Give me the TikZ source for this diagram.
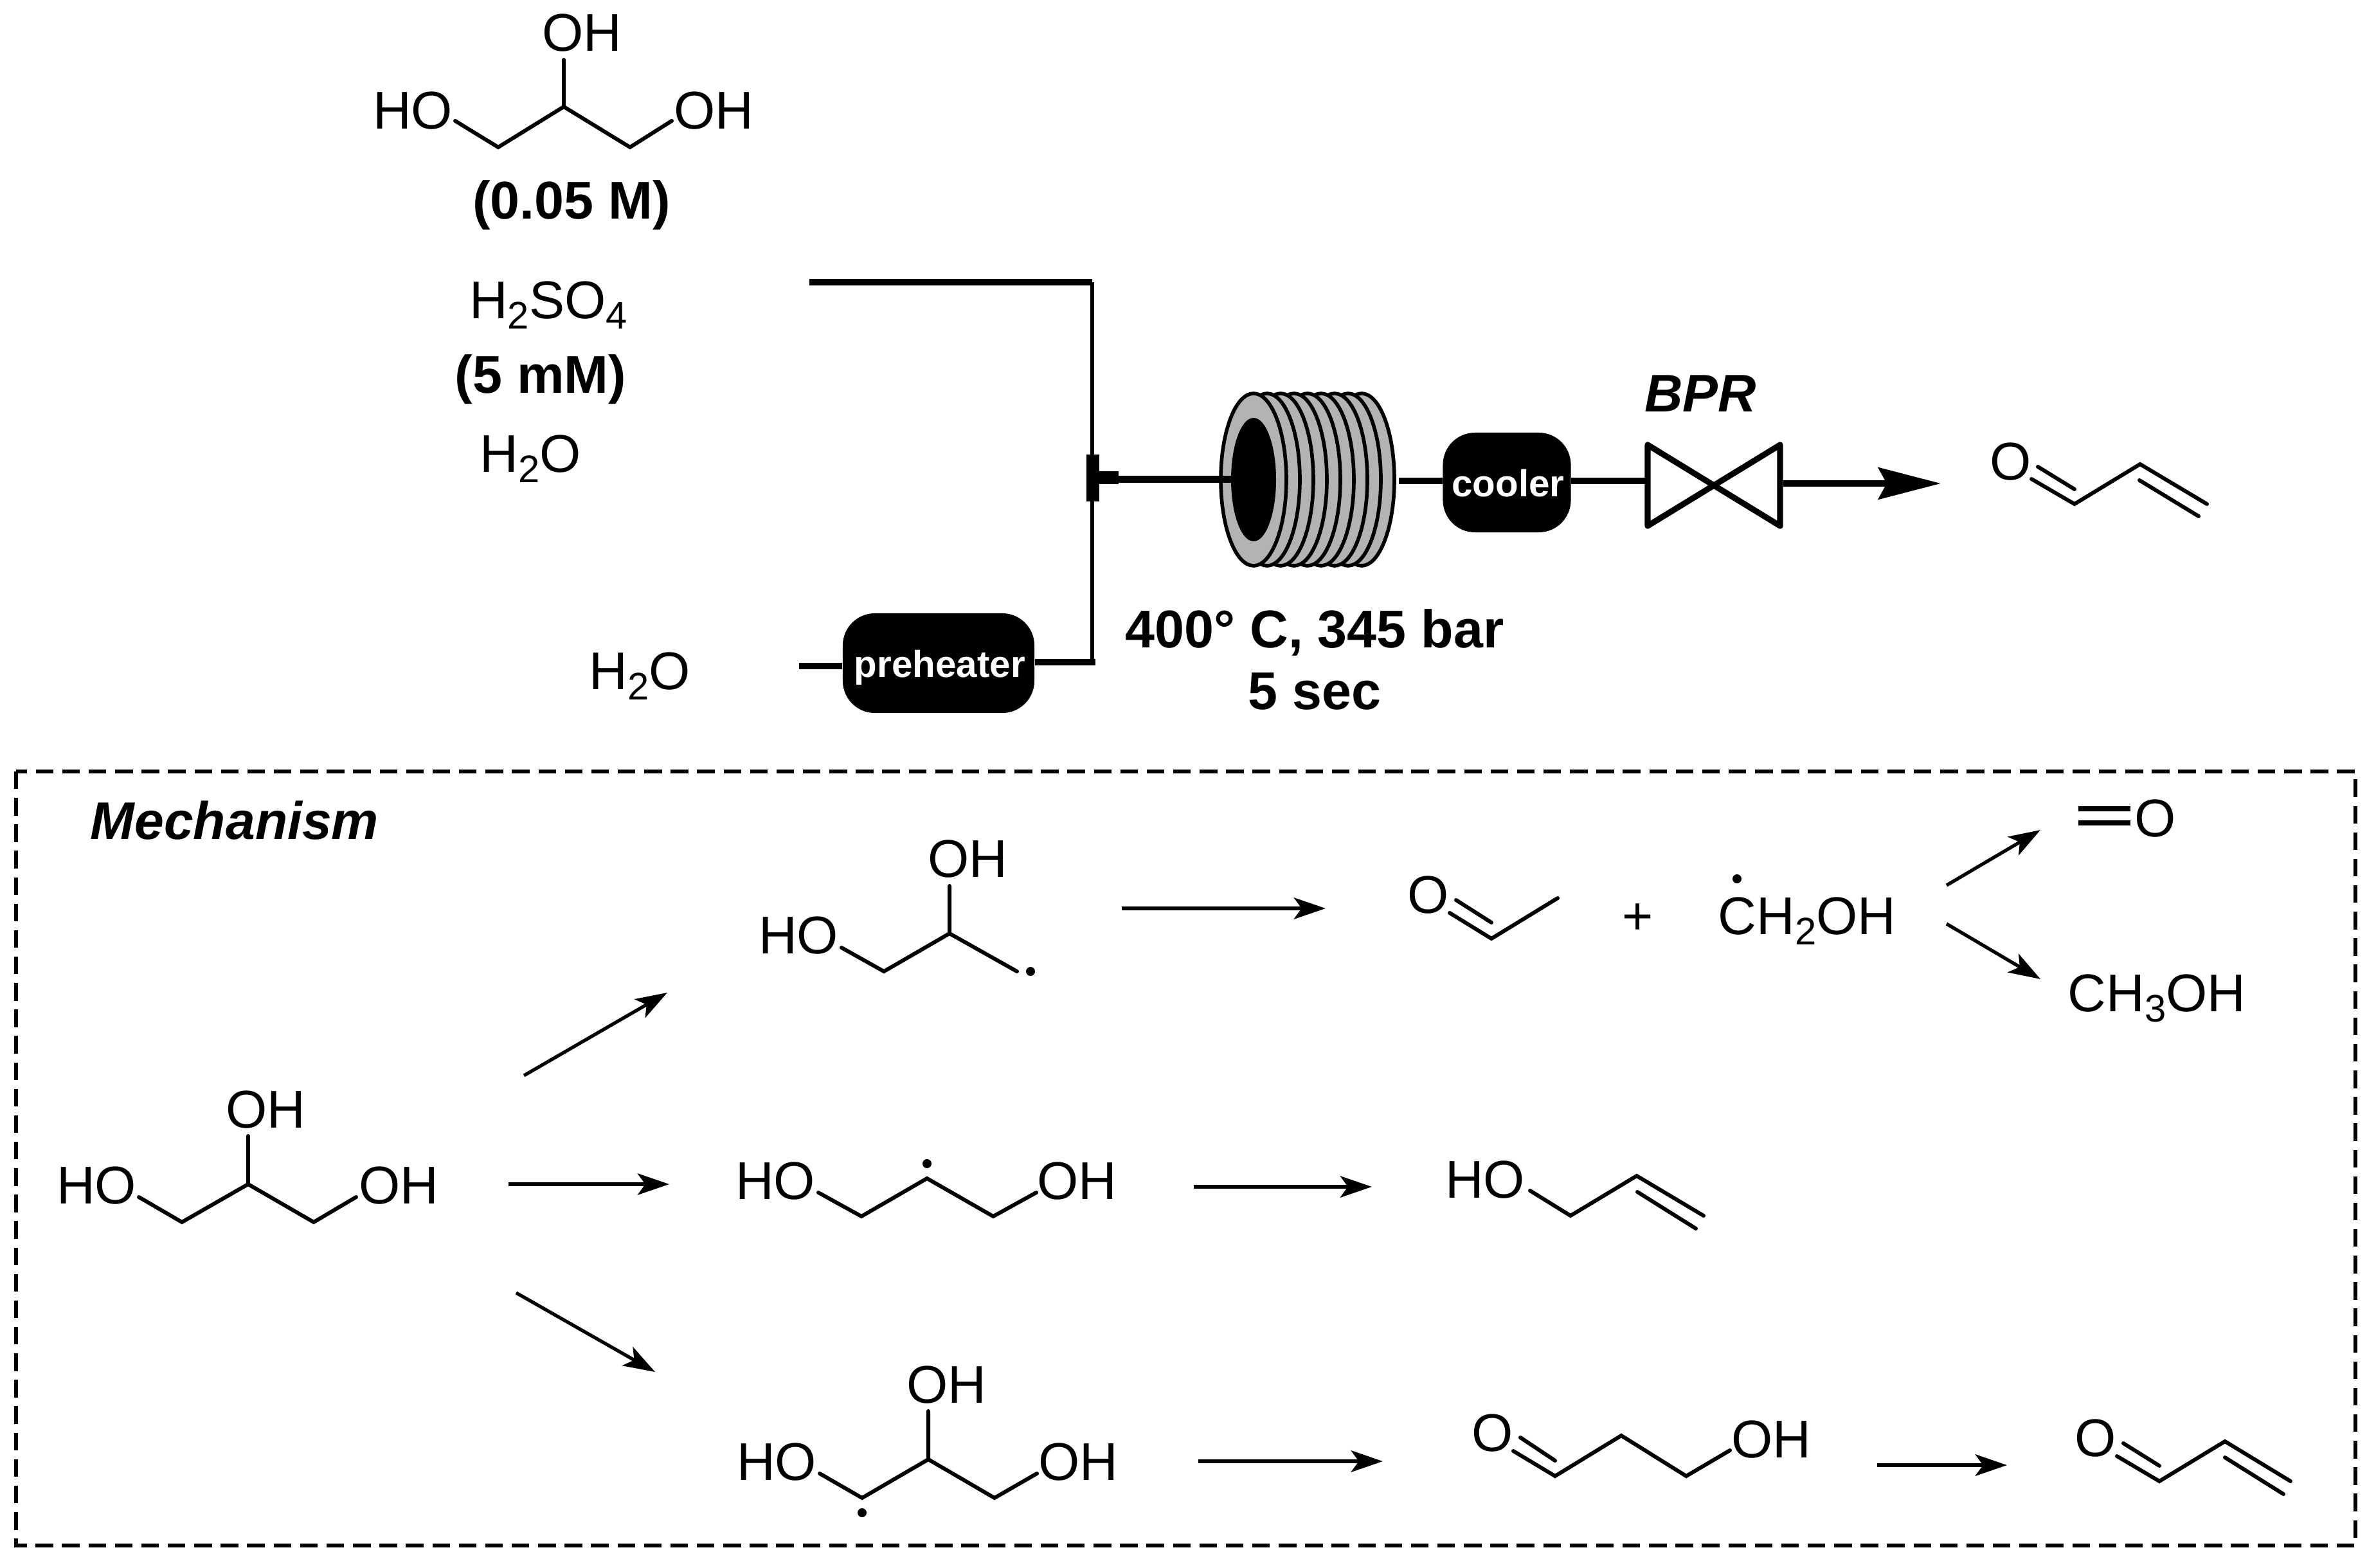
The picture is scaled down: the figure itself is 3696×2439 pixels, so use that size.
\documentclass[tikz,border=0pt]{standalone}
\usepackage{fontspec}
\setmainfont{Liberation Sans}
\usetikzlibrary{arrows.meta}
% subscript as in the chemical formulas
\newcommand{\chemsub}[1]{\raisebox{-0.2em}{\fontsize{17pt}{17pt}\selectfont #1}}
\definecolor{coilgray}{RGB}{179,179,179}
\tikzset{
  txt/.style={inner sep=0pt,outer sep=0pt,anchor=base,font=\fontsize{23.5pt}{26pt}\selectfont},
  btxt/.style={txt,font=\fontsize{23.5pt}{26pt}\selectfont\bfseries},
  bitxt/.style={txt,font=\fontsize{23.4pt}{26pt}\selectfont\bfseries\itshape},
  wtxt/.style={txt,text=white,font=\fontsize{16.6pt}{18pt}\selectfont\bfseries},
  box/.style={fill=black,draw=none,rounded corners=0.5cm,inner sep=0pt},
  bond/.style={line width=1.7pt,line cap=round},
  pipe/.style={line width=3pt},
  rxn/.style={line width=1.5pt,-{Stealth[length=14pt,width=9.5pt,inset=3.4pt]}},
  rxnb/.style={line width=1.9pt,-{Stealth[length=14pt,width=9.5pt,inset=3.4pt]}},
  flow/.style={line width=2.9pt,-{Stealth[length=27.6pt,width=14pt,inset=3.7pt]}},
  rad/.style={fill=black},
  coilturn/.style={fill=coilgray,draw=black,line width=1.6pt}
}
\begin{document}
\begin{tikzpicture}[x=0.01cm,y=-0.01cm]
\useasboundingbox (0,0) rectangle (3696,2439);

% glycerol feed
\node[txt] (tOH) at (905,80) {OH};
\node[txt] (tHO) at (642,200) {HO};
\node[txt] (tOHr) at (1110,200) {OH};
\coordinate (t1) at (708,188); \coordinate (t2) at (775,229); \coordinate (t3) at (877,166);
\coordinate (t4) at (980,229); \coordinate (t5) at (1045,188); \coordinate (t6) at (877,93);
\draw[bond] (t1) -- (t2) -- (t3) -- (t4) -- (t5) (t3) -- (t6);
\node[btxt] (conc) at (889,340) {(0.05 M)};
\node[txt] (acid) at (853,495) {H\chemsub{2}SO\chemsub{4}};
\node[btxt] (acidc) at (841,611) {(5 mM)};
\node[txt] (wat1) at (825,734) {H\chemsub{2}O};
\node[txt] (wat2) at (995,1072) {H\chemsub{2}O};

% flow lines
\coordinate (feed) at (1259,439); \coordinate (corner) at (1699,439);
\coordinate (tee) at (1699,1030); \coordinate (phin) at (1243,1036);
\draw[pipe] (feed) -- (corner);
\draw[line width=1.7pt] (corner) -- (tee);
\node[box,minimum width=2.98cm,minimum height=1.55cm] (preheater) at (1460,1031.5) {};
\node[wtxt] (phtext) at (1462,1053) {preheater};
\draw[pipe] (phin) -- (phin -| preheater.west);
\draw[pipe] (preheater.east |- tee) -- ([xshift=0.05cm]tee);
\fill (1690,707) rectangle (1710,780);
\fill (1710,733) rectangle (1740,753);

% coil reactor
\foreach \i in {8,7,...,0}
  \draw[coilturn] (1950+21*\i,746) ellipse [x radius=51,y radius=134];
\fill (1950,746) ellipse [x radius=35,y radius=96];
\coordinate (mixout) at (1740,745.5); \coordinate (coilin) at (1915,745.5);
\draw[pipe] (mixout) -- (coilin);
\node[btxt] (cond1) at (2045,1007) {400° C, 345 bar};
\node[btxt] (cond2) at (2045,1103) {5 sec};

% cooler, valve, product
\node[box,minimum width=1.99cm,minimum height=1.55cm] (cooler) at (2344,750.5) {};
\node[wtxt] (cooltext) at (2346,772) {cooler};
\coordinate (coilout) at (2176,748);
\coordinate (v1) at (2563,692); \coordinate (v2) at (2769,818);
\coordinate (v3) at (2769,692); \coordinate (v4) at (2563,818);
\draw[line width=2.6pt,line join=round] (v1) -- (v2) -- (v3) -- (v4) -- cycle;
\draw[pipe] (coilout) -- (coilout -| cooler.west);
\draw[pipe] (coilout -| cooler.east) -- (coilout -| v1);
\node[bitxt] (bpr) at (2645,640) {BPR};
\coordinate (vout) at (2774,752); \coordinate (ptip) at (3019,752);
\draw[flow] (vout) -- (ptip);
\node[txt] (pO) at (3128,746) {O};
\coordinate (p1) at (3160,745); \coordinate (p2) at (3227,784); \coordinate (p3) at (3329,722);
\coordinate (p4) at (3433,784); \coordinate (p5) at (3170,726); \coordinate (p6) at (3227,761);
\coordinate (p7) at (3328,747); \coordinate (p8) at (3420,803);
\draw[bond] (p1) -- (p2) -- (p3) -- (p4) (p5) -- (p6) (p7) -- (p8);

% mechanism frame
\draw[line width=1.7pt,dash pattern=on 7.8pt off 3.9pt] (25,1200) rectangle (3664,2404);
\node[bitxt] (mech) at (365,1305) {Mechanism};

% glycerol
\node[txt] (gOH) at (413,1754) {OH};
\node[txt] (gHO) at (150,1872) {HO};
\node[txt] (gOHr) at (620,1872) {OH};
\coordinate (g1) at (216,1862); \coordinate (g2) at (283,1901); \coordinate (g3) at (386,1842);
\coordinate (g4) at (488,1901); \coordinate (g5) at (554,1862); \coordinate (g6) at (386,1767);
\draw[bond] (g1) -- (g2) -- (g3) -- (g4) -- (g5) (g3) -- (g6);

% arrows from glycerol
\coordinate (a1s) at (815,1673); \coordinate (a1e) at (1038,1544);
\coordinate (a2s) at (791,1842); \coordinate (a2e) at (1041,1842);
\coordinate (a3s) at (803,2011); \coordinate (a3e) at (1019,2134);
\draw[rxn] (a1s) -- (a1e);
\draw[rxn] (a2s) -- (a2e);
\draw[rxn] (a3s) -- (a3e);

% terminal radical
\node[txt] (rOH) at (1505,1364) {OH};
\node[txt] (rHO) at (1242,1483) {HO};
\coordinate (r1) at (1309,1474); \coordinate (r2) at (1375,1511); \coordinate (r3) at (1477,1452);
\coordinate (r4) at (1582,1511); \coordinate (r5) at (1477,1378);
\draw[bond] (r1) -- (r2) -- (r3) -- (r4) (r3) -- (r5);
\fill[rad] (1603,1511) circle [radius=7];
\coordinate (b1s) at (1745,1413); \coordinate (b1e) at (2062,1413);
\draw[rxn] (b1s) -- (b1e);

% acetaldehyde + hydroxymethyl
\node[txt] (eO) at (2222,1420) {O};
\coordinate (e1) at (2255,1420); \coordinate (e2) at (2320,1460); \coordinate (e3) at (2423,1397);
\coordinate (e4) at (2265,1400); \coordinate (e5) at (2320,1435);
\draw[bond] (e1) -- (e2) -- (e3) (e4) -- (e5);
\node[txt] (plus) at (2548,1453) {+};
\node[txt] (hm) at (2811,1453) {CH\chemsub{2}OH};
\fill[rad] (2702,1367) circle [radius=7];
\coordinate (c1s) at (3028,1377); \coordinate (c1e) at (3174,1291);
\coordinate (c2s) at (3028,1437); \coordinate (c2e) at (3174,1523);
\draw[rxn] (c1s) -- (c1e);
\draw[rxn] (c2s) -- (c2e);
\coordinate (f1) at (3233,1258); \coordinate (f2) at (3314,1258);
\coordinate (f3) at (3233,1280); \coordinate (f4) at (3314,1280);
\draw[line width=2.1pt] (f1) -- (f2) (f3) -- (f4);
\node[txt] (fO) at (3353,1301) {O};
\node[txt] (meoh) at (3355,1573) {CH\chemsub{3}OH};

% secondary radical
\node[txt] (mHO) at (1206,1865) {HO};
\node[txt] (mOH) at (1675,1865) {OH};
\coordinate (m1) at (1273,1855); \coordinate (m2) at (1340,1892); \coordinate (m3) at (1442,1833);
\coordinate (m4) at (1545,1892); \coordinate (m5) at (1612,1855);
\draw[bond] (m1) -- (m2) -- (m3) -- (m4) -- (m5);
\fill[rad] (1442,1810) circle [radius=7];
\coordinate (b2s) at (1857,1846); \coordinate (b2e) at (2134,1846);
\draw[rxn] (b2s) -- (b2e);

% allyl alcohol
\node[txt] (aHO) at (2310,1863) {HO};
\coordinate (l1) at (2380,1852); \coordinate (l2) at (2443,1891); \coordinate (l3) at (2546,1829);
\coordinate (l4) at (2650,1891); \coordinate (l5) at (2547,1854); \coordinate (l6) at (2638,1911);
\draw[bond] (l1) -- (l2) -- (l3) -- (l4) (l5) -- (l6);

% radical at C1
\node[txt] (bOH) at (1472,2182) {OH};
\node[txt] (bHO) at (1208,2302) {HO};
\node[txt] (bOHr) at (1677,2302) {OH};
\coordinate (n1) at (1275,2292); \coordinate (n2) at (1341,2330); \coordinate (n3) at (1444,2270);
\coordinate (n4) at (1547,2330); \coordinate (n5) at (1613,2292); \coordinate (n6) at (1444,2195);
\draw[bond] (n1) -- (n2) -- (n3) -- (n4) -- (n5) (n3) -- (n6);
\fill[rad] (1341,2353) circle [radius=7];
\coordinate (b3s) at (1864,2273); \coordinate (b3e) at (2151,2273);
\draw[rxnb] (b3s) -- (b3e);

% 3-hydroxypropanal
\node[txt] (hO) at (2322,2257) {O};
\node[txt] (hOH) at (2755,2267) {OH};
\coordinate (h1) at (2354,2257); \coordinate (h2) at (2419,2296); \coordinate (h3) at (2522,2233);
\coordinate (h4) at (2623,2296); \coordinate (h5) at (2691,2256); \coordinate (h6) at (2365,2236);
\coordinate (h7) at (2419,2272);
\draw[bond] (h1) -- (h2) -- (h3) -- (h4) -- (h5) (h6) -- (h7);
\coordinate (b4s) at (2920,2279); \coordinate (b4e) at (3122,2279);
\draw[rxnb] (b4s) -- (b4e);

% acrolein
\node[txt] (qO) at (3260,2265) {O};
\coordinate (q1) at (3293,2265); \coordinate (q2) at (3359,2304); \coordinate (q3) at (3461,2242);
\coordinate (q4) at (3563,2304); \coordinate (q5) at (3303,2245); \coordinate (q6) at (3359,2280);
\coordinate (q7) at (3461,2267); \coordinate (q8) at (3552,2324);
\draw[bond] (q1) -- (q2) -- (q3) -- (q4) (q5) -- (q6) (q7) -- (q8);
\end{tikzpicture}
\end{document}
